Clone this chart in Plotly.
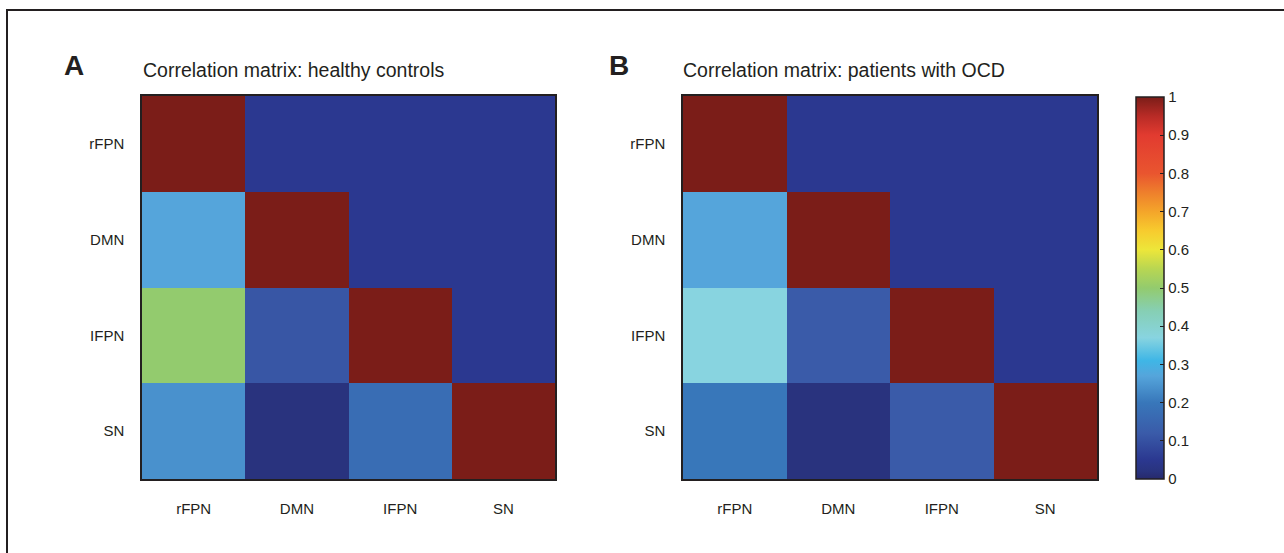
import plotly.graph_objects as go

W, H = 1284, 553

networks = ["rFPN", "DMN", "IFPN", "SN"]

# Rows: rFPN, DMN, IFPN, SN (top to bottom); columns: rFPN, DMN, IFPN, SN
healthy_rFPN = [1.00, 0.05, 0.05, 0.05]
healthy_DMN = [0.27, 1.00, 0.05, 0.05]
healthy_IFPN = [0.50, 0.11, 1.00, 0.05]
healthy_SN = [0.24, 0.02, 0.17, 1.00]

ocd_rFPN = [1.00, 0.05, 0.05, 0.05]
ocd_DMN = [0.27, 1.00, 0.05, 0.05]
ocd_IFPN = [0.37, 0.12, 1.00, 0.05]
ocd_SN = [0.20, 0.02, 0.12, 1.00]

cbar_ticks = [0, 0.1, 0.2, 0.3, 0.4, 0.5, 0.6, 0.7, 0.8, 0.9, 1]
cbar_labels = ["0", "0.1", "0.2", "0.3", "0.4", "0.5", "0.6", "0.7", "0.8", "0.9", "1"]

colorscale = [
    [0.00, "#27296c"],
    [0.02, "#29337e"],
    [0.05, "#2b3890"],
    [0.12, "#3a5ba9"],
    [0.20, "#3877ba"],
    [0.27, "#55a5db"],
    [0.31, "#3fb6e6"],
    [0.37, "#88d4e0"],
    [0.44, "#86cfb4"],
    [0.50, "#93cb6e"],
    [0.55, "#b8d652"],
    [0.60, "#ede63a"],
    [0.65, "#f7cb2e"],
    [0.70, "#f4a52a"],
    [0.75, "#ee7f2c"],
    [0.80, "#e9552f"],
    [0.90, "#e23b30"],
    [0.95, "#b82b26"],
    [1.00, "#7b1d18"],
]

z_healthy = [healthy_rFPN, healthy_DMN, healthy_IFPN, healthy_SN]
z_ocd = [ocd_rFPN, ocd_DMN, ocd_IFPN, ocd_SN]

FONT = "Liberation Sans, Arial, sans-serif"
TXT = "#231f20"


def px_x(v):
    return v / W


def px_y(v):
    return 1 - v / H


fig = go.Figure()

fig.add_trace(go.Heatmap(
    z=z_healthy, x=networks, y=networks, colorscale=colorscale,
    zmin=0, zmax=1, showscale=False, xaxis="x", yaxis="y",
    hoverinfo="skip",
))
fig.add_trace(go.Heatmap(
    z=z_ocd, x=networks, y=networks, colorscale=colorscale,
    zmin=0, zmax=1, xaxis="x2", yaxis="y2", hoverinfo="skip",
    colorbar=dict(
        x=px_x(1136), xanchor="left", xpad=0, ypad=0,
        y=px_y(97), yanchor="top", len=(479 - 97) / H, lenmode="fraction",
        thickness=28, thicknessmode="pixels",
        outlinewidth=1.5, outlinecolor=TXT,
        tickvals=cbar_ticks, ticktext=cbar_labels,
        ticks="inside", ticklen=4, tickcolor=TXT,
        tickfont=dict(family=FONT, size=15, color=TXT),
    ),
))

tickfont = dict(family=FONT, size=15, color=TXT)
axis_common = dict(showline=True, mirror=True, linecolor=TXT, linewidth=1.5,
                   showgrid=False, zeroline=False, ticks="", tickfont=tickfont,
                   fixedrange=True)

fig.update_layout(
    width=W, height=H,
    margin=dict(l=0, r=0, t=0, b=0),
    paper_bgcolor="white", plot_bgcolor="white",
    xaxis=dict(domain=[px_x(142), px_x(555)], anchor="y", ticklabelstandoff=15, **axis_common),
    yaxis=dict(domain=[px_y(479), px_y(96)], anchor="x", autorange="reversed",
               ticklabelstandoff=13, **axis_common),
    xaxis2=dict(domain=[px_x(683), px_x(1097)], anchor="y2", ticklabelstandoff=15, **axis_common),
    yaxis2=dict(domain=[px_y(479), px_y(96)], anchor="x2", autorange="reversed",
                ticklabelstandoff=13, **axis_common),
    showlegend=False,
)

title_font = dict(family=FONT, size=19.5, color=TXT)
letter_font = dict(family=FONT, size=28, color=TXT)

annotations = [
    dict(text="<b>A</b>", x=px_x(74), y=px_y(65.5), font=letter_font),
    dict(text="Correlation matrix: healthy controls", x=px_x(141), y=px_y(70), xanchor="left", font=title_font),
    dict(text="<b>B</b>", x=px_x(619), y=px_y(65.5), font=letter_font),
    dict(text="Correlation matrix: patients with OCD", x=px_x(681), y=px_y(70), xanchor="left", font=title_font),
]
for a in annotations:
    a.setdefault("xanchor", "center")
    fig.add_annotation(xref="paper", yref="paper", yanchor="middle", showarrow=False, **a)

fig.add_shape(type="rect", xref="paper", yref="paper",
              x0=px_x(7), x1=1.05, y0=-0.05, y1=px_y(10),
              line=dict(color=TXT, width=2), layer="above")

fig.write_html("out.html", config={"displayModeBar": False},
               post_script="document.body.style.margin='0';")
